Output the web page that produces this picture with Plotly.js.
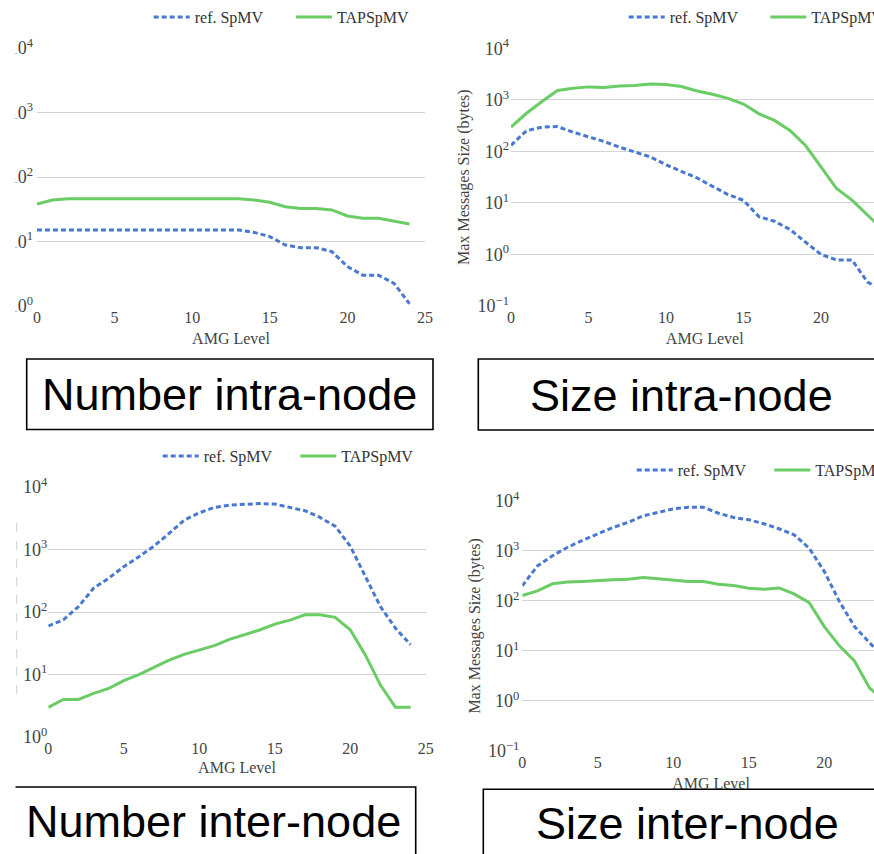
<!DOCTYPE html>
<html><head><meta charset="utf-8">
<script src="https://cdn.plot.ly/plotly-3.0.1.min.js"></script>
<style>html,body{margin:0;padding:0;overflow:hidden;background:#fff;}#fig{width:910px;height:870px;}</style>
</head><body><div id="fig"></div>
<script>
// ---- data ----
const levels = [0,1,2,3,4,5,6,7,8,9,10,11,12,13,14,15,16,17,18,19,20,21,22,23,24];
const seriesNames = ['ref. SpMV', 'TAPSpMV'];
const panelLabels = ['Number intra-node', 'Size intra-node', 'Number inter-node', 'Size inter-node'];
const xTickVals = [0,5,10,15,20,25];
const yTickValsCount = [1,10,100,1000,10000];
const yTickTextCount = ['10<sup>0</sup>','10<sup>1</sup>','10<sup>2</sup>','10<sup>3</sup>','10<sup>4</sup>'];
const yTickValsSize = [0.1,1,10,100,1000,10000];
const yTickTextSize = ['10<sup>\u22121</sup>','10<sup>0</sup>','10<sup>1</sup>','10<sup>2</sup>','10<sup>3</sup>','10<sup>4</sup>'];

const numIntraRef = [15.1,15.1,15.1,15.1,15.1,15.1,15.1,15.1,15.1,15.1,15.1,15.1,15.1,15.1,13.8,11.9,8.8,8.0,8.0,6.95,4.07,3.0,3.0,2.24,1.08];
const numIntraTap = [38,44,46,46,46,46,46,46,46,46,46,46,46,46,44,40.5,34.6,32.5,32.5,30.8,24.8,22.9,22.9,20.8,18.7];
const sizeIntraRef = [131,252,296,303,236,195,156,121,96,78,55,41,30.5,21,14.5,11.2,5.4,4.4,3.05,1.73,1.0,0.78,0.78,0.29,0.2];
const sizeIntraTap = [296,550,930,1520,1690,1790,1740,1870,1900,2040,1990,1820,1490,1290,1070,830,535,400,255,130,50,19,11.3,5.8,3];
const numInterRef = [60,75,122,240,346,530,765,1130,1800,2940,3850,4680,5100,5300,5400,5300,4700,4150,3240,2350,1130,365,122,55,30];
const numInterTap = [3,4,4,5,6,8,10,12.9,17,21,25,29,36.6,43,51.6,64,74,90,90,82,52,20.6,6.8,3,3];
const sizeInterRef = [200,500,795,1180,1620,2170,2930,3700,5000,5870,6900,7400,7400,5640,4640,4170,3480,2760,2090,1130,386,97,30.6,14.5,7];
const sizeInterTap = [128,158,219,237,243,255,263,271,292,275,263,243,243,215,203,179,170,181,138,92,30.6,12.6,6.3,1.8,1];

// ---- layout helpers ----
const W = 910, H = 870;
const X = px => px / W;
const Y = py => 1 - py / H;
const BLUE = '#4878CF', GREEN = '#6ACC65';
const SERIF = 'Liberation Serif, Times New Roman, serif';
const SANS = 'Liberation Sans, Arial, sans-serif';
const xTickFont = {family: SERIF, size: 16, color: '#444'};
const yTickFont = {family: SERIF, size: 18, color: '#444'};

const panels = [
  {ref: numIntraRef, tap: numIntraTap, x: [37, 425], y: [48, 306], size: false, ytitle: '', ylab: 3, xst: 7, leg: [[152.7, 17], [295, 17]]},
  {ref: sizeIntraRef, tap: sizeIntraTap, x: [511, 898.5], y: [48.3, 306], size: true, ytitle: 'Max Messages Size (bytes)', ylab: 1, xst: 7, leg: [[627.7, 17], [769.3, 17]]},
  {ref: numInterRef, tap: numInterTap, x: [48.3, 425.7], y: [486.7, 737.3], size: false, ytitle: '', ylab: 0, xst: 5, leg: [[161.7, 456], [299.3, 456]]},
  {ref: sizeInterRef, tap: sizeInterTap, x: [522.3, 899.8], y: [500.7, 751], size: true, ytitle: 'Max Messages Size (bytes)', ylab: 2, xst: 7, leg: [[635.7, 470], [773.3, 470]]}
];

const data = [];
const layout = {
  width: W, height: H,
  margin: {l: 0, r: 0, t: 0, b: 0, autoexpand: false},
  paper_bgcolor: '#fff', plot_bgcolor: '#fff',
  font: {family: SERIF, size: 16, color: '#444'},
  showlegend: true,
  shapes: [], annotations: []
};

panels.forEach((p, i) => {
  const k = i + 1;
  const xa = 'x' + (k === 1 ? '' : k), ya = 'y' + (k === 1 ? '' : k);
  const lg1 = 'legend' + (2 * i + 1 === 1 ? '' : (2 * i + 1));
  const lg2 = 'legend' + (2 * i + 2);
  data.push({x: levels, y: p.ref, xaxis: xa, yaxis: ya, type: 'scatter', mode: 'lines', name: seriesNames[0],
    line: {color: BLUE, width: 3, dash: '5px,3px'}, legend: lg1, showlegend: true});
  data.push({x: levels, y: p.tap, xaxis: xa, yaxis: ya, type: 'scatter', mode: 'lines', name: seriesNames[1],
    line: {color: GREEN, width: 3}, legend: lg2, showlegend: true});
  const xk = 'xaxis' + (k === 1 ? '' : k), yk = 'yaxis' + (k === 1 ? '' : k);
  layout[xk] = {
    domain: [X(p.x[0]), X(p.x[1])], anchor: ya, range: [0, 25],
    tickvals: xTickVals, showgrid: false, zeroline: false, showline: false, ticks: '',
    tickfont: xTickFont, automargin: true,
    title: {text: 'AMG Level', standoff: p.xst, font: {family: SERIF, size: 16, color: '#444'}}
  };
  layout[yk] = {
    domain: [Y(p.y[1]), Y(p.y[0])], anchor: xa, type: 'log',
    range: p.size ? [-1.002, 4.002] : [-0.002, 4.002],
    tickvals: p.size ? yTickValsSize : yTickValsCount,
    ticktext: p.size ? yTickTextSize : yTickTextCount,
    showgrid: true, gridcolor: '#d4d4d4', gridwidth: 1, zeroline: false, showline: false, ticks: '',
    tickfont: yTickFont, ticklabelstandoff: p.ylab,
    title: {text: p.ytitle, font: {family: SERIF, size: 16, color: '#444'}}
  };
  [[lg1, p.leg[0]], [lg2, p.leg[1]]].forEach(([name, pos]) => {
    layout[name] = {x: X(pos[0] - 4), y: Y(pos[1]), xanchor: 'left', yanchor: 'middle', orientation: 'h',
      bgcolor: 'rgba(0,0,0,0)', borderwidth: 0, itemwidth: 36,
      font: {family: SERIF, size: 16, color: '#333'}};
  });
});

// caption boxes
const boxLine = {color: '#000', width: 1.6};
layout.shapes.push(
  {type: 'rect', xref: 'paper', yref: 'paper', x0: X(26.7), x1: X(433), y0: Y(429.5), y1: Y(359), line: boxLine, fillcolor: 'rgba(0,0,0,0)'},
  {type: 'rect', xref: 'paper', yref: 'paper', x0: X(478.3), x1: X(905), y0: Y(430), y1: Y(359), line: boxLine, fillcolor: 'rgba(0,0,0,0)'},
  {type: 'rect', xref: 'paper', yref: 'paper', x0: X(5), x1: X(415.7), y0: Y(900), y1: Y(787), line: boxLine, fillcolor: 'rgba(0,0,0,0)'},
  {type: 'rect', xref: 'paper', yref: 'paper', x0: X(483.3), x1: X(905), y0: Y(900), y1: Y(789.3), line: boxLine, fillcolor: 'rgba(0,0,0,0)'},
  {type: 'line', xref: 'paper', yref: 'paper', x0: X(16.7), x1: X(16.7), y0: Y(523), y1: Y(700), line: {color: '#d0d0d0', width: 1, dash: 'dash'}},
  {type: 'rect', xref: 'paper', yref: 'paper', x0: 0, x1: X(15.5), y0: 0, y1: 1, line: {width: 0}, fillcolor: '#fff', layer: 'above'}
);
const capPos = [[229, 394], [681, 395], [213, 821], [687, 823]];
panelLabels.forEach((t, i) => {
  layout.annotations.push({text: t, xref: 'paper', yref: 'paper', x: X(capPos[i][0]), y: Y(capPos[i][1]),
    xanchor: 'center', yanchor: 'middle', showarrow: false, font: {family: SANS, size: 45, color: '#000'}});
});

Plotly.newPlot('fig', data, layout, {staticPlot: true, displayModeBar: false});
</script></body></html>
